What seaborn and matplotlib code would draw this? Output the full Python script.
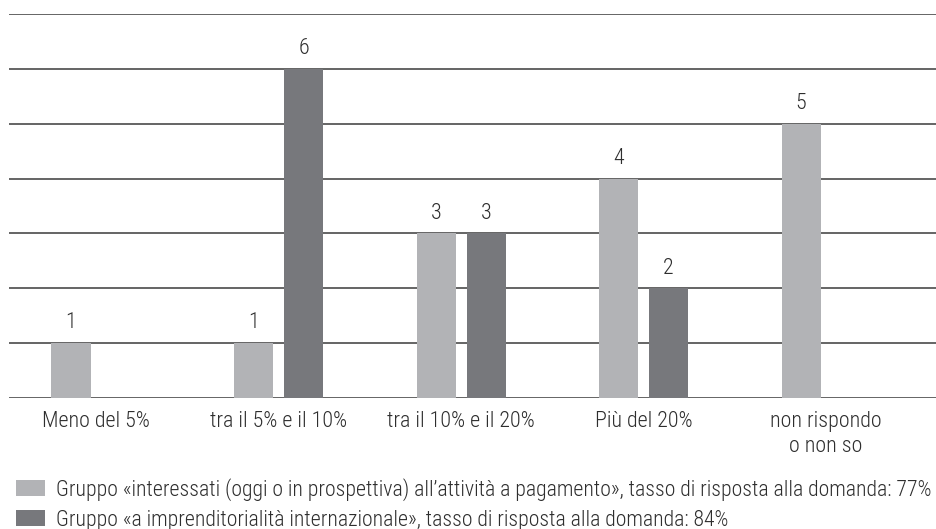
import matplotlib
matplotlib.use("Agg")
import matplotlib.pyplot as plt
from matplotlib import font_manager
import seaborn as sns
import pandas as pd
import numpy as np

# --- data -------------------------------------------------------------
categories = ["Meno del 5%", "tra il 5% e il 10%", "tra il 10% e il 20%",
              "Più del 20%", "non rispondo\no non so"]
group_names = [
    "Gruppo «interessati (oggi o in prospettiva) all’attività a pagamento», "
    "tasso di risposta alla domanda: 77%",
    "Gruppo «a imprenditorialità internazionale», "
    "tasso di risposta alla domanda: 84%",
]
values_interessati = [1, 1, 3, 4, 5]
values_internazionale = [None, 6, 3, 2, None]

colors = ["#b2b3b6", "#77787c"]
text_color = "#2e2e2e"

# --- font -------------------------------------------------------------
def pick_family(candidates):
    names = {f.name for f in font_manager.fontManager.ttflist}
    for c in candidates:
        if c in names:
            return c
    return "DejaVu Sans"

family = pick_family(["Roboto Condensed", "Liberation Sans Narrow",
                      "Liberation Sans"])
FS = 15.8
FS_LEG = 15.65

sns.set_theme(style="white")
plt.rcParams["font.family"] = [family, "DejaVu Sans"]
plt.rcParams["font.weight"] = 300
plt.rcParams["text.color"] = text_color
plt.rcParams["xtick.color"] = text_color

# --- long-form table --------------------------------------------------
rows = []
for cat, v in zip(categories, values_interessati):
    if v is not None:
        rows.append({"categoria": cat, "gruppo": group_names[0], "n": v})
for cat, v in zip(categories, values_internazionale):
    if v is not None:
        rows.append({"categoria": cat, "gruppo": group_names[1], "n": v})
df = pd.DataFrame(rows)

# --- figure -----------------------------------------------------------
W, H = 937, 529
fig = plt.figure(figsize=(W / 100, H / 100), dpi=100)
ax = fig.add_axes([9 / W, (H - 398) / H, (W - 9) / W, (398 - 14) / H])

sns.barplot(data=df, x="categoria", y="n", hue="gruppo",
            order=categories, hue_order=group_names,
            palette=colors, width=0.548, gap=0.22,
            saturation=1, errorbar=None, linewidth=0,
            ax=ax, zorder=3)

for cont in ax.containers:
    ax.bar_label(cont, fmt="{:.0f}", padding=7, fontsize=FS,
                 color=text_color, fontweight=300)

ax.set_ylim(0, 7)
ax.set_xlim(-0.4767, 4.608)
ax.set_yticks(np.arange(0, 8))
ax.yaxis.grid(True, color="#4a4a4a", linewidth=1.2, zorder=1)
ax.set_axisbelow(True)
ax.tick_params(axis="y", left=False, labelleft=False)
ax.tick_params(axis="x", bottom=False, labelsize=FS, pad=3.2)
for lbl in ax.get_xticklabels():
    lbl.set_linespacing(1.28)
    lbl.set_fontweight(300)
for s in ax.spines.values():
    s.set_visible(False)
ax.set_xlabel("")
ax.set_ylabel("")

handles, labels = ax.get_legend_handles_labels()
ax.get_legend().remove()
fig.legend(handles, labels, loc="upper left",
           bbox_to_anchor=(16 / W, (H - 478) / H),
           frameon=False, prop={"size": FS_LEG, "weight": 300},
           handlelength=1.34, handleheight=0.79, handletextpad=0.48,
           labelspacing=0.4, borderpad=0, borderaxespad=0)

fig.savefig("out.png", dpi=100)
